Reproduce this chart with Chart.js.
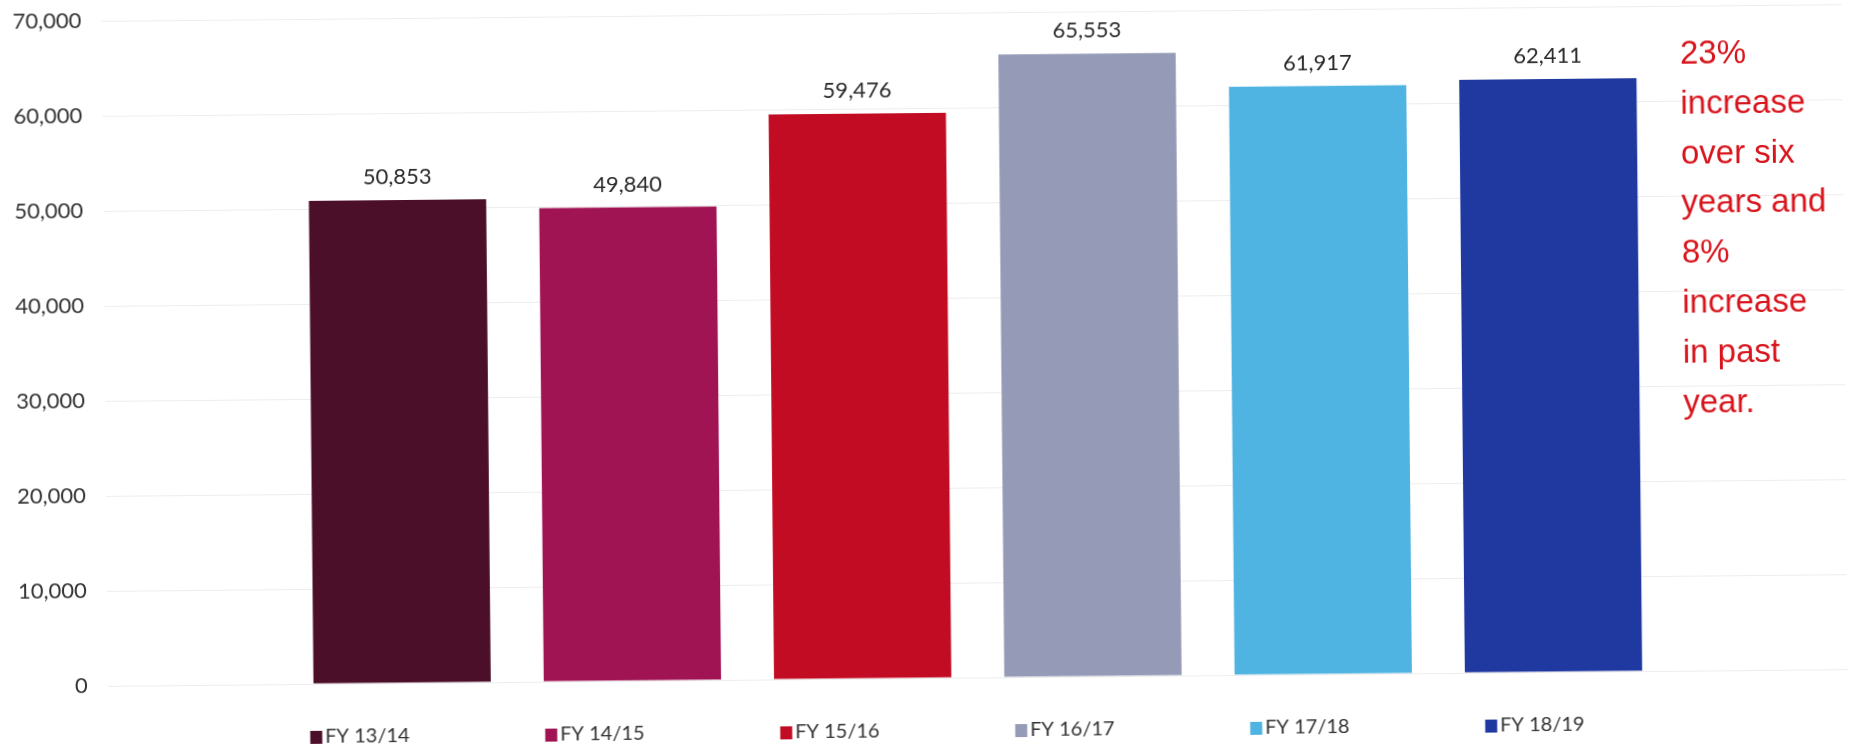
<!DOCTYPE html>
<html>
<head>
<meta charset="utf-8">
<script src="https://cdn.jsdelivr.net/npm/chart.js@4/dist/chart.umd.min.js"></script>
<style>
  html, body { margin: 0; padding: 0; background: #ffffff; overflow: hidden; }
  #wrap { width: 1852px; height: 745px; transform: rotate(-0.55deg); transform-origin: 50% 50%; }
  canvas { display: block; }
</style>
</head>
<body>
<div id="wrap"><canvas id="c" width="1852" height="745"></canvas></div>
<script>
// ---- data ----
const categories = ['FY 13/14', 'FY 14/15', 'FY 15/16', 'FY 16/17', 'FY 17/18', 'FY 18/19'];
const values = [50853, 49840, 59476, 65553, 61917, 62411];
const barColors = ['#4c0f2a', '#a01454', '#c20c24', '#959bb7', '#50b4e2', '#2039a0'];
const yTickValues = [0, 10000, 20000, 30000, 40000, 50000, 60000, 70000];
const annotationLines = ['23%', 'increase', 'over six', 'years and', '8%', 'increase', 'in past', 'year.'];

const fmt = v => v.toLocaleString('en-US');

const datasets = categories.map((c, i) => ({
  label: c,
  data: [values[i]],
  backgroundColor: barColors[i],
  borderWidth: 0,
  categoryPercentage: 0.794,
  barPercentage: 0.77
}));

const valueLabels = {
  id: 'valueLabels',
  afterDatasetsDraw(chart) {
    const ctx = chart.ctx;
    ctx.save();
    ctx.font = '22px Lato';
    ctx.fillStyle = '#2a2a2a';
    ctx.textAlign = 'center';
    ctx.textBaseline = 'alphabetic';
    chart.data.datasets.forEach((ds, i) => {
      const meta = chart.getDatasetMeta(i);
      meta.data.forEach((bar, j) => {
        ctx.fillText(fmt(ds.data[j]), bar.x, bar.y - 16);
      });
    });
    ctx.restore();
  }
};

const customLegend = {
  id: 'customLegend',
  afterDraw(chart) {
    const ctx = chart.ctx;
    const a = chart.chartArea;
    ctx.save();
    ctx.font = '20px Lato';
    ctx.textBaseline = 'middle';
    ctx.textAlign = 'left';
    const pitch = 235;
    const x0 = a.left + 202;
    const y = a.bottom + 53;
    chart.data.datasets.forEach((ds, i) => {
      const x = x0 + i * pitch;
      ctx.fillStyle = ds.backgroundColor;
      ctx.fillRect(x, y - 6, 12, 13);
      ctx.fillStyle = '#333333';
      ctx.fillText(ds.label, x + 15, y);
    });
    ctx.restore();
  }
};

const annotation = {
  id: 'annotation',
  afterDraw(chart) {
    const ctx = chart.ctx;
    ctx.save();
    ctx.font = '33px "Liberation Sans", Arial, sans-serif';
    ctx.fillStyle = '#d8141c';
    ctx.textAlign = 'left';
    ctx.textBaseline = 'middle';
    annotationLines.forEach((t, i) => {
      ctx.fillText(t, 1683, 62 + i * 49.8);
    });
    ctx.restore();
  }
};

new Chart(document.getElementById('c'), {
  type: 'bar',
  data: { labels: [''], datasets },
  plugins: [valueLabels, customLegend, annotation],
  options: {
    responsive: false,
    animation: false,
    devicePixelRatio: 1,
    layout: { padding: { left: -4, right: 7, top: 13, bottom: 67 } },
    plugins: {
      legend: { display: false },
      tooltip: { enabled: false }
    },
    scales: {
      x: { display: false },
      y: {
        min: 0,
        max: 70000,
        afterBuildTicks(scale) { scale.ticks = yTickValues.map(v => ({ value: v })); },
        afterFit(scale) { scale.paddingTop = 0; scale.paddingBottom = 0; },
        border: { display: false },
        grid: { color: 'rgba(0,0,0,0.07)', lineWidth: 1, drawTicks: false },
        ticks: {
          padding: 20,
          color: '#333333',
          font: { family: 'Lato', size: 22 },
          callback: v => fmt(v)
        }
      }
    }
  }
});
</script>
</body>
</html>
